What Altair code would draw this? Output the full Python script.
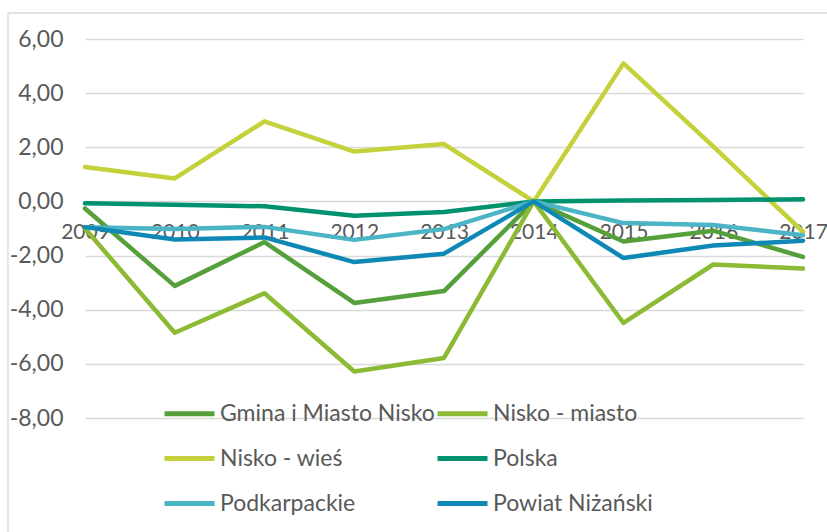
import altair as alt
import pandas as pd

# Annual change values (percent) per area, 2009-2017
years = [2009, 2010, 2011, 2012, 2013, 2014, 2015, 2016, 2017]
series_names = [
    "Gmina i Miasto Nisko",
    "Nisko - miasto",
    "Nisko - wieś",
    "Polska",
    "Podkarpackie",
    "Powiat Niżański",
]
gmina = [-0.26, -3.12, -1.50, -3.75, -3.31, 0.0, -1.48, -1.08, -2.05]
nisko_miasto = [-1.00, -4.85, -3.39, -6.28, -5.78, 0.0, -4.49, -2.33, -2.48]
nisko_wies = [1.27, 0.85, 2.96, 1.84, 2.12, 0.0, 5.10, 2.03, -1.12]
polska = [-0.07, -0.12, -0.18, -0.53, -0.39, 0.0, 0.03, 0.05, 0.08]
podkarpackie = [-0.95, -1.02, -0.94, -1.42, -1.02, 0.0, -0.80, -0.87, -1.25]
powiat = [-0.95, -1.41, -1.33, -2.24, -1.93, 0.0, -2.09, -1.63, -1.45]
colors = ["#55A03A", "#8CBA34", "#C4D13A", "#00926F", "#4BB5C6", "#0E88B5"]

values = [gmina, nisko_miasto, nisko_wies, polska, podkarpackie, powiat]
rows = []
for order, (name, vals) in enumerate(zip(series_names, values)):
    for yr, v in zip(years, vals):
        rows.append({"rok": str(yr), "seria": name, "wartosc": v, "kolejnosc": order})
df = pd.DataFrame(rows)

FONT = "Lato"
TXT = "#595959"
GRID = "#D9D9D9"
FS = 23

lines = alt.Chart(df).mark_line(
    strokeWidth=4.5, strokeCap="round", strokeJoin="round"
).encode(
    x=alt.X(
        "rok:O",
        scale=alt.Scale(type="point", padding=0),
        axis=alt.Axis(
            title=None, orient="bottom", offset=-217, domain=False, ticks=False,
            grid=False, labelAngle=0, labelPadding=20, labelFontSize=21,
            labelColor=TXT, labelFont=FONT, labelOverlap=False, labelFlush=False,
        ),
    ),
    y=alt.Y(
        "wartosc:Q",
        scale=alt.Scale(domain=[-8, 6], nice=False),
        axis=alt.Axis(
            title=None, values=[-8, -6, -4, -2, 0, 2, 4, 6], domain=False,
            ticks=False, grid=True, gridColor=GRID, gridWidth=1.3,
            labelPadding=22, labelFontSize=FS, labelColor=TXT, labelFont=FONT,
            labelExpr="(datum.value < 0 ? '-' : '') + replace(format(abs(datum.value), '.2f'), '.', ',')",
        ),
    ),
    color=alt.Color(
        "seria:N",
        sort=series_names,
        scale=alt.Scale(domain=series_names, range=colors),
        legend=alt.Legend(
            title=None, orient="none", legendX=77, legendY=347, columns=2,
            direction="horizontal",
            symbolType="stroke", symbolSize=2500, symbolStrokeWidth=5,
            labelFontSize=FS, labelColor=TXT, labelFont=FONT, labelOffset=3,
            labelLimit=0, columnPadding=-21, rowPadding=5, padding=0,
        ),
    ),
    order=alt.Order("kolejnosc:Q"),
)

# outer chart frame (left and top edges visible)
frame = alt.Chart(pd.DataFrame({"f": [0]})).mark_rect(
    fill=None, stroke=GRID, strokeWidth=1.3
).encode(
    x=alt.value(-77), x2=alt.value(760), y=alt.value(-26), y2=alt.value(510)
)

chart = alt.layer(frame, lines).properties(
    width=718, height=379,
    autosize=alt.AutoSizeParams(type="none"),
    padding={"left": 85, "top": 39, "right": 24, "bottom": 114},
    background="white",
).configure_view(stroke=None)

chart.save("out.html", embed_options={"renderer": "svg", "actions": False})
